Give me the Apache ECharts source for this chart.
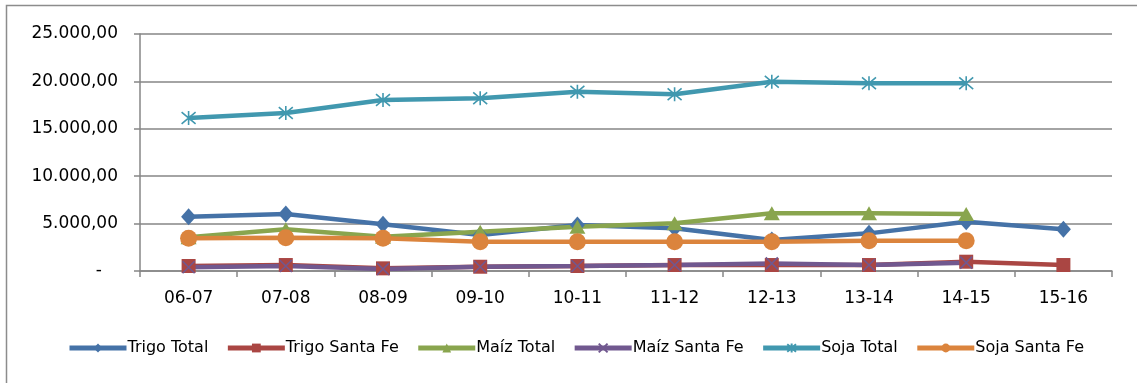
<!DOCTYPE html>
<html>
<head>
<meta charset="utf-8">
<script src="https://cdn.jsdelivr.net/npm/echarts@6/dist/echarts.min.js"></script>
<style>
  html, body { margin: 0; padding: 0; background: #fff; }
  #main { width: 1137px; height: 383px; }
</style>
</head>
<body>
<div id="main"></div>
<script>
// campañas
var campaigns = ['06-07', '07-08', '08-09', '09-10', '10-11', '11-12', '12-13', '13-14', '14-15', '15-16'];

// series values
var trigoTotal   = [5730, 6010, 4920, 3800, 4850, 4500, 3270, 3970, 5200, 4400];
var trigoSantaFe = [530, 630, 280, 450, 530, 630, 630, 630, 980, 630];
var maizTotal    = [3550, 4400, 3620, 4150, 4670, 5030, 6080, 6080, 6010, null];
var maizSantaFe  = [390, 530, 210, 450, 530, 630, 800, 630, 880, null];
var sojaTotal    = [16140, 16670, 18040, 18220, 18910, 18640, 19970, 19800, 19800, null];
var sojaSantaFe  = [3450, 3510, 3450, 3090, 3090, 3090, 3090, 3200, 3200, null];

var yTicks = [0, 5000, 10000, 15000, 20000, 25000];

var FONT = 'DejaVu Sans';
var crossPath = 'path://M0,0 L10,10 M10,0 L0,10';
var starPath = 'path://M0,0 L10,10 M10,0 L0,10 M5,-1 L5,11';

function fmt(v) {
    if (v === 0) return '-   ';
    var s = String(Math.round(v));
    s = s.replace(/\B(?=(\d{3})+(?!\d))/g, '.');
    return s + ',00';
}

function mk(name, data, color, symbol, size, stroke) {
    return {
        name: name,
        type: 'line',
        data: data,
        symbol: symbol,
        symbolSize: size,
        showAllSymbol: true,
        connectNulls: false,
        lineStyle: { width: 4.5, color: color },
        itemStyle: stroke ? { color: color, borderColor: color, borderWidth: 1.6 } : { color: color },
        emphasis: { disabled: true },
        animation: false
    };
}

var myChart = echarts.init(document.getElementById('main'));
myChart.setOption({
    animation: false,
    textStyle: { fontFamily: FONT },
    graphic: [{
        type: 'polyline',
        shape: { points: [[6.5, 383], [6.5, 5.5], [1137, 5.5]] },
        style: { stroke: '#8c8c8c', lineWidth: 1.5, fill: null },
        silent: true
    }],
    grid: { left: 140, right: 25, top: 34, bottom: 112 },
    legend: {
        bottom: 22,
        left: 62,
        itemWidth: 57,
        itemHeight: 11,
        itemGap: 17,
        lineStyle: { width: 5 },
        textStyle: { fontFamily: FONT, fontSize: 16, color: '#000', padding: [0, 0, 0, -4] },
        data: ['Trigo Total', 'Trigo Santa Fe', 'Maíz Total', 'Maíz Santa Fe', 'Soja Total', 'Soja Santa Fe']
    },
    xAxis: {
        type: 'category',
        data: campaigns,
        boundaryGap: true,
        axisLine: { lineStyle: { color: '#868686', width: 1.5 } },
        axisTick: { show: true, length: 6, alignWithLabel: false, lineStyle: { color: '#868686', width: 1.5 } },
        axisLabel: { color: '#000', fontSize: 17, fontFamily: FONT, margin: 19 }
    },
    yAxis: {
        type: 'value',
        min: yTicks[0],
        max: yTicks[yTicks.length - 1],
        interval: 5000,
        axisLine: { show: true, lineStyle: { color: '#868686', width: 1.5 } },
        axisTick: { show: true, length: 6, lineStyle: { color: '#868686', width: 1.5 } },
        splitLine: { lineStyle: { color: '#868686', width: 1.5 } },
        axisLabel: { color: '#000', fontSize: 17, fontFamily: FONT, margin: 22, formatter: fmt }
    },
    series: [
        mk('Trigo Total', trigoTotal, '#4572A7', 'diamond', [15, 17], false),
        mk('Trigo Santa Fe', trigoSantaFe, '#AA4643', 'rect', 14, false),
        mk('Maíz Total', maizTotal, '#89A54E', 'triangle', [16, 14], false),
        mk('Maíz Santa Fe', maizSantaFe, '#71588F', crossPath, 12, true),
        mk('Soja Total', sojaTotal, '#4198AF', starPath, 14, true),
        mk('Soja Santa Fe', sojaSantaFe, '#DB843D', 'circle', 17, false)
    ]
});
</script>
</body>
</html>
